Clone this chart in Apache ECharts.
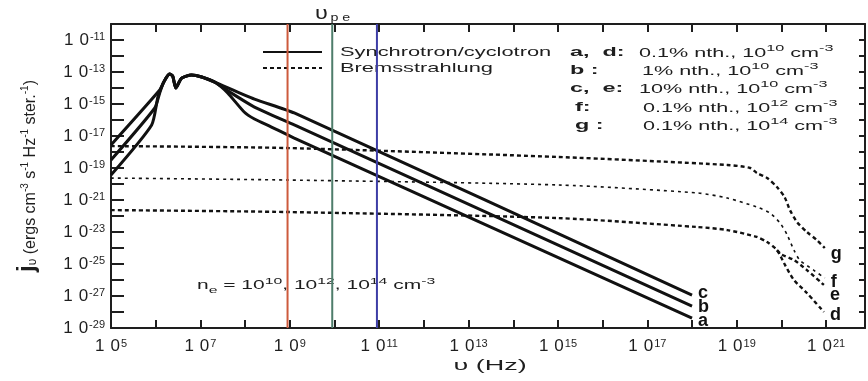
<!DOCTYPE html>
<html>
<head>
<meta charset="utf-8">
<title>Emissivity spectra</title>
<script src="https://cdn.jsdelivr.net/npm/echarts@6/dist/echarts.min.js"></script>
<style>
  html, body { margin: 0; padding: 0; background: #fff; }
  #chart { width: 868px; height: 381px; }
</style>
</head>
<body>
<div id="chart"></div>
<script>
// all values are log10: x = log10(frequency / Hz), y = log10(j / ergs cm^-3 s^-1 Hz^-1 ster^-1)
const xRange = [5, 21.87];
const yRange = [-29, -10];
const xLabelExp = [5, 7, 9, 11, 13, 15, 17, 19, 21];
const yLabelExp = [-11, -13, -15, -17, -19, -21, -23, -25, -27, -29];

// synchrotron / cyclotron
const synA = [[5.0, -19.44], [5.91, -16.31], [6.05, -14.56], [6.18, -13.63], [6.31, -13.13], [6.38, -13.25], [6.45, -14.0], [6.58, -13.38], [6.80, -13.19], [7.03, -13.31], [7.32, -13.63], [7.61, -14.31], [7.98, -15.5], [8.21, -15.94], [8.59, -16.44], [9.10, -17.13], [18.0, -28.38]];
const synB = [[5.0, -18.5], [5.98, -15.25], [6.09, -14.31], [6.18, -13.63], [6.31, -13.13], [6.38, -13.25], [6.45, -14.0], [6.58, -13.38], [6.80, -13.19], [7.03, -13.31], [7.32, -13.63], [7.69, -14.31], [8.21, -15.19], [9.10, -16.31], [18.0, -27.63]];
const synC = [[5.0, -17.56], [6.09, -14.13], [6.18, -13.63], [6.31, -13.13], [6.38, -13.25], [6.45, -14.0], [6.58, -13.38], [6.80, -13.19], [7.03, -13.31], [7.32, -13.63], [8.21, -14.69], [9.10, -15.56], [18.0, -26.94]];

// bremsstrahlung
const bremD = [[5.0, -21.63], [8.92, -21.75], [15.0, -22.13], [18.12, -22.69], [18.79, -22.88], [19.45, -23.31], [19.68, -23.63], [19.90, -24.13], [20.08, -25.06], [20.28, -26.0], [20.57, -26.81], [20.95, -28.0]];
const bremE = [[19.90, -24.13], [20.0, -24.4], [20.28, -24.75], [20.57, -25.38], [20.95, -26.31]];
const bremF = [[5.0, -19.63], [8.92, -19.75], [15.0, -20.06], [18.12, -20.56], [18.79, -20.88], [19.45, -21.44], [19.74, -21.81], [19.97, -22.44], [20.13, -23.19], [20.28, -24.13], [20.41, -24.75], [20.72, -25.38], [20.97, -25.88]];
const bremG = [[5.0, -17.63], [8.92, -17.75], [15.0, -18.31], [18.79, -18.81], [19.3, -19.0], [19.45, -19.31], [19.68, -19.63], [19.90, -20.19], [20.07, -20.81], [20.19, -21.63], [20.35, -22.38], [20.57, -23.0], [20.79, -23.5], [20.97, -24.0]];

// electron plasma frequency for n_e = 1e10, 1e12, 1e14 cm^-3
const plasmaFreq = [8.95, 9.95, 10.95];
const plasmaColors = ['#cd5a3c', '#4e7d6b', '#3d3da6'];

const FONT = 'Liberation Sans';
const INK = '#1e1e1e';
const STRETCH = 1.8;

const chart = echarts.init(document.getElementById('chart'));

function powLabel(list) {
  return v => {
    const r = Math.round(v);
    if (Math.abs(v - r) > 1e-6 || !list.includes(r)) return '';
    return '{m|1}{z|0}{s|' + r + '}';
  };
}

const tickRich = {
  m: { fontSize: 17, fontFamily: FONT, color: INK },
  z: { fontSize: 17, fontFamily: FONT, color: INK, padding: [0, 0, 0, 6] },
  s: { fontSize: 11, fontFamily: FONT, color: INK, verticalAlign: 'top', padding: [0, 0, 0, 1] }
};

const frameLine = { onZero: false, lineStyle: { color: INK, width: 2 } };

function synSeries(name, data, offset) {
  return {
    name, type: 'line', data, showSymbol: false, smooth: 0.2, silent: true,
    lineStyle: { color: '#111', width: 3 },
    endLabel: { show: true, formatter: name, distance: 6, offset, fontSize: 18, fontWeight: 'bold', fontFamily: FONT, color: '#111' }
  };
}

function bremSeries(name, data, width, dash, offset) {
  return {
    name, type: 'line', data, showSymbol: false, smooth: 0.25, silent: true,
    lineStyle: { color: '#111', width, type: dash },
    endLabel: { show: true, formatter: name, distance: 6, offset, fontSize: 18, fontWeight: 'bold', fontFamily: FONT, color: '#111' }
  };
}

const plasmaSeries = plasmaFreq.map((f, i) => ({
  type: 'line', data: [[f, yRange[0]], [f, yRange[1]]], showSymbol: false, silent: true,
  lineStyle: { color: plasmaColors[i], width: 2 }
}));

function txt(x, y, text, rich, extra) {
  return Object.assign({
    type: 'text', x, y, scaleX: STRETCH, silent: true,
    style: { text, rich, fill: INK, font: '13px ' + FONT, align: 'left', verticalAlign: 'middle' }
  }, extra || {});
}

const annRich = {
  b: { fontSize: 13, fontWeight: 'bold', fontFamily: FONT, fill: INK, verticalAlign: 'bottom' },
  t: { fontSize: 12, fontFamily: FONT, fill: INK, verticalAlign: 'bottom' },
  s: { fontSize: 9, fontFamily: FONT, fill: INK, verticalAlign: 'bottom', padding: [0, 0, 6, 0] }
};

const annotations = [
  ['a,  d:', 570, 52, '{t|0.1% nth., 10}{s|10}{t| cm}{s|-3}', 639],
  ['b :', 570, 70, '{t|1% nth., 10}{s|10}{t| cm}{s|-3}', 642],
  ['c,  e:', 570, 88, '{t|10% nth., 10}{s|10}{t| cm}{s|-3}', 639],
  ['f:', 575, 107, '{t|0.1% nth., 10}{s|12}{t| cm}{s|-3}', 643],
  ['g :', 575, 125, '{t|0.1% nth., 10}{s|14}{t| cm}{s|-3}', 643]
];

const graphics = [
  { type: 'line', silent: true, shape: { x1: 263, y1: 52, x2: 322, y2: 52 }, style: { stroke: '#111', lineWidth: 2 } },
  { type: 'line', silent: true, shape: { x1: 263, y1: 68, x2: 322, y2: 68 }, style: { stroke: '#111', lineWidth: 2, lineDash: [4, 3] } },
  txt(340, 52, '{t|Synchrotron/cyclotron}', { t: { fontSize: 13, fontFamily: FONT, fill: INK } }, { scaleX: 1.68 }),
  txt(340, 68, '{t|Bremsstrahlung}', { t: { fontSize: 13, fontFamily: FONT, fill: INK } }, { scaleX: 1.68 }),
  txt(315, 14, '{u|υ}{p|p e}', {
    u: { fontSize: 18, fontFamily: FONT, fill: INK, verticalAlign: 'top' },
    p: { fontSize: 11, fontFamily: FONT, fill: INK, verticalAlign: 'top', padding: [7, 0, 0, 2] }
  }, { scaleX: 1.3 }),
  txt(197, 286, '{t|n}{sub|e}{t| = 10}{s|10}{t|, 10}{s|12}{t|, 10}{s|14}{t| cm}{s|-3}', {
    t: { fontSize: 12, fontFamily: FONT, fill: INK, verticalAlign: 'middle' },
    sub: { fontSize: 9, fontFamily: FONT, fill: INK, verticalAlign: 'top', padding: [9, 0, 0, 0] },
    s: { fontSize: 9, fontFamily: FONT, fill: INK, verticalAlign: 'top' }
  }, { scaleX: 1.75 }),
  txt(490, 366, '{t|υ (Hz)}', null, {
    style: { text: '{t|υ (Hz)}', rich: { t: { fontSize: 15, fontFamily: FONT, fill: INK } }, fill: INK, align: 'center', verticalAlign: 'middle' }
  })
];

annotations.forEach(([lab, lx, y, body, bx]) => {
  graphics.push(txt(lx, y, '{b|' + lab + '}', annRich));
  graphics.push(txt(bx, y, body, annRich));
});

chart.setOption({
  animation: false,
  backgroundColor: '#fff',
  textStyle: { fontFamily: FONT },
  grid: { left: 111, right: 0, top: 24, bottom: 53 },
  xAxis: [
    {
      type: 'value', min: xRange[0], max: xRange[1], interval: 1, position: 'bottom',
      axisLine: frameLine,
      axisTick: { inside: true, length: 8, lineStyle: { color: INK, width: 2 } },
      axisLabel: { margin: 10, formatter: powLabel(xLabelExp), rich: tickRich, showMaxLabel: true },
      splitLine: { show: false }
    },
    {
      type: 'value', min: xRange[0], max: xRange[1], interval: 1, position: 'top',
      axisLine: frameLine,
      axisTick: { inside: true, length: 8, lineStyle: { color: INK, width: 2 } },
      axisLabel: { show: false },
      splitLine: { show: false }
    }
  ],
  yAxis: [
    {
      type: 'value', min: yRange[0], max: yRange[1], interval: 1, position: 'left',
      axisLine: frameLine,
      axisTick: { inside: true, length: 13, lineStyle: { color: INK, width: 2 } },
      axisLabel: { margin: 6, formatter: powLabel(yLabelExp), rich: tickRich },
      splitLine: { show: false },
      name: '{j|j}{sub|υ}{t| (ergs cm}{s|-3}{t| s}{s|-1}{t| Hz}{s|-1}{t| ster.}{s|-1}{t|)}',
      nameLocation: 'middle', nameRotate: 90, nameGap: 72,
      nameTextStyle: {
        rich: {
          j: { fontSize: 24, fontFamily: FONT, fontWeight: 'bold', color: INK, verticalAlign: 'bottom' },
          sub: { fontSize: 12, fontFamily: FONT, color: INK, verticalAlign: 'bottom' },
          t: { fontSize: 16, fontFamily: FONT, color: INK, verticalAlign: 'bottom' },
          s: { fontSize: 10, fontFamily: FONT, color: INK, verticalAlign: 'bottom', padding: [0, 0, 9, 0] }
        }
      }
    },
    {
      type: 'value', min: yRange[0], max: yRange[1], interval: 1, position: 'right',
      axisLine: frameLine,
      axisTick: { inside: true, length: 6, lineStyle: { color: INK, width: 2 } },
      axisLabel: { show: false },
      splitLine: { show: false }
    }
  ],
  series: [
    bremSeries('d', bremD, 2.4, [4, 3], [0, 3]),
    bremSeries('e', bremE, 2.4, [4, 3], [0, 10]),
    bremSeries('f', bremF, 1.6, [3, 4], [0, 4]),
    bremSeries('g', bremG, 2.4, [4, 3], [0, 6]),
    synSeries('a', synA, [0, 3]),
    synSeries('b', synB, [0, 1]),
    synSeries('c', synC, [0, -2]),
    ...plasmaSeries
  ],
  graphic: graphics
});
</script>
</body>
</html>
